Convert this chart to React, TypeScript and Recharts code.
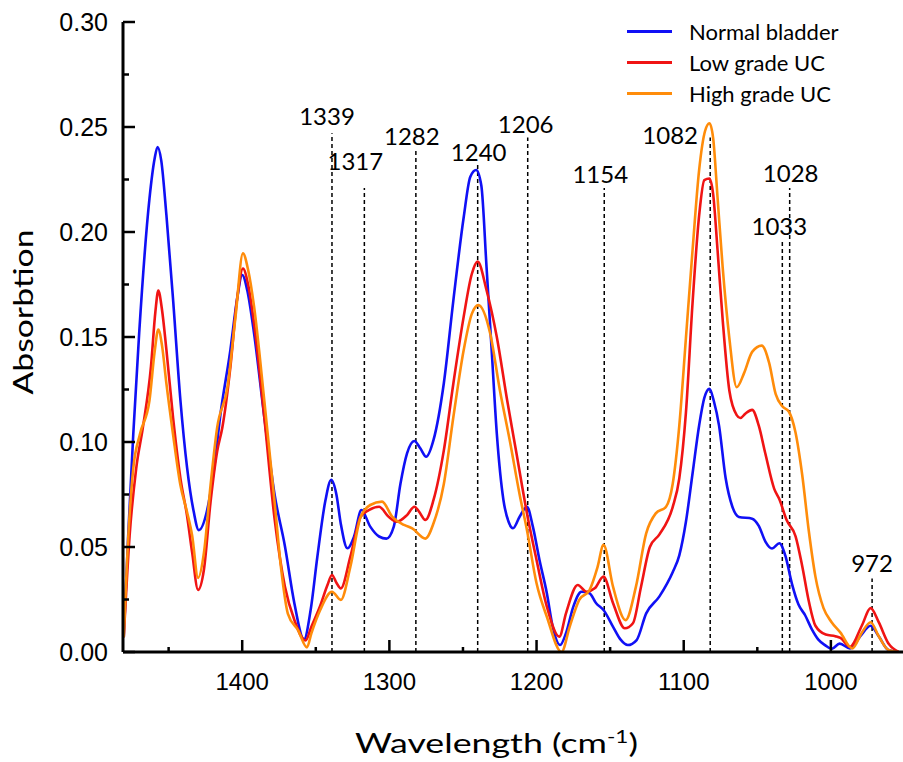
import { LineChart, Line, XAxis, YAxis, ReferenceLine, Legend, Label } from 'recharts';

// wavenumber (cm-1), absorbance
const normalBladder: [number, number][] = [
  [1480.5, 0.007], [1477.5, 0.055], [1474, 0.104], [1470, 0.152], [1463, 0.216], [1459.5, 0.235],
  [1457.5, 0.2405], [1455, 0.234], [1451.5, 0.208], [1447, 0.168], [1442, 0.12], [1437.5, 0.088],
  [1433, 0.067], [1429.5, 0.058], [1424, 0.067], [1419, 0.088], [1415, 0.112], [1408, 0.144],
  [1403.5, 0.168], [1400, 0.1795], [1396.5, 0.172], [1392, 0.152], [1385, 0.112], [1378, 0.075],
  [1371, 0.0505], [1364.5, 0.023], [1358, 0.006], [1353.5, 0.02], [1349, 0.045], [1343.5, 0.072],
  [1339.5, 0.082], [1336, 0.075], [1333, 0.061], [1328.5, 0.0494], [1324, 0.055], [1319, 0.0676],
  [1313, 0.0597], [1307, 0.055], [1302, 0.054], [1297, 0.0597], [1292.5, 0.08], [1288, 0.0946],
  [1283, 0.1005], [1279, 0.097], [1275, 0.093], [1270, 0.101], [1263, 0.128], [1256.5, 0.1676],
  [1249.5, 0.207], [1245, 0.2263], [1241, 0.2295], [1237.5, 0.222], [1234, 0.1835], [1230.5, 0.1438],
  [1227, 0.104], [1222.5, 0.0724], [1219, 0.062], [1216, 0.0589], [1211.5, 0.0644], [1206.5, 0.0692],
  [1202.5, 0.0597], [1198, 0.0438], [1193, 0.028], [1189, 0.012], [1184, 0.0033], [1180, 0.0089],
  [1175, 0.0216], [1169.5, 0.0287], [1164, 0.028], [1159.5, 0.0232], [1154.5, 0.02], [1148, 0.012],
  [1143, 0.006], [1138, 0.0033], [1132, 0.0057], [1125.5, 0.0184], [1116.5, 0.0265], [1107.5, 0.038],
  [1103, 0.046], [1098.5, 0.062], [1094, 0.085], [1089.5, 0.108], [1086, 0.121], [1082.5, 0.1253],
  [1079.5, 0.1194], [1076, 0.1078], [1071.5, 0.0827], [1067, 0.0693], [1062.5, 0.0643], [1053.5, 0.0635],
  [1049, 0.0601], [1044.5, 0.0526], [1040, 0.0493], [1035, 0.0518], [1031, 0.046], [1026.5, 0.0326],
  [1022, 0.0226], [1017.5, 0.0175], [1013, 0.0109], [1008.5, 0.0059], [1004, 0.0033], [999.5, 0.0015],
  [994, 0.004], [987, 0.0017], [980, 0.0075], [973, 0.0125], [967.5, 0.0075], [961, 0.001], [954, 0],
];

const lowGradeUC: [number, number][] = [
  [1480.5, 0.007], [1476.5, 0.0554], [1472, 0.0876], [1467.5, 0.1069], [1462, 0.1359], [1459, 0.162],
  [1457, 0.1721], [1454.5, 0.163], [1451.5, 0.1439], [1447, 0.1117], [1442, 0.0828], [1437.5, 0.065],
  [1434, 0.0473], [1430, 0.0296], [1426, 0.0393], [1421.5, 0.0715], [1417, 0.0956], [1413.5, 0.1069],
  [1408, 0.1359], [1403.5, 0.168], [1399.5, 0.1826], [1396, 0.175], [1392, 0.1568], [1385, 0.1117],
  [1378, 0.0634], [1371, 0.0312], [1364.5, 0.0151], [1357, 0.0055], [1353, 0.012], [1347, 0.022],
  [1342, 0.032], [1339, 0.0367], [1336, 0.033], [1333, 0.0303], [1326.5, 0.0454], [1319.5, 0.0644],
  [1314, 0.0676], [1307, 0.0692], [1300.5, 0.0644], [1295, 0.062], [1288, 0.0652], [1283, 0.0692],
  [1280, 0.067], [1275.5, 0.0629], [1270, 0.0724], [1263, 0.096], [1256.5, 0.128], [1249.5, 0.1597],
  [1244, 0.18], [1240, 0.1859], [1234, 0.1724], [1227, 0.15], [1220, 0.12], [1213.5, 0.094],
  [1206.5, 0.066], [1200, 0.0438], [1193, 0.0216], [1184.5, 0.0073], [1180, 0.0184], [1172, 0.0319],
  [1166, 0.0287], [1160.5, 0.0303], [1154.5, 0.0359], [1148, 0.0232], [1140, 0.0113], [1134.5, 0.0137],
  [1129, 0.0311], [1123, 0.05], [1116.5, 0.056], [1107.5, 0.069], [1103, 0.0827], [1098.5, 0.114],
  [1094, 0.1662], [1089.5, 0.208], [1086, 0.2247], [1082.5, 0.2255], [1080, 0.218], [1077, 0.1913],
  [1073.5, 0.1579], [1069, 0.1245], [1064, 0.1128], [1061.5, 0.1114], [1058, 0.1136], [1053.5, 0.1153],
  [1049, 0.1078], [1044.5, 0.0944], [1038.5, 0.0777], [1035, 0.0727], [1030, 0.0627], [1024, 0.0551],
  [1019.5, 0.041], [1015, 0.0242], [1010.5, 0.0125], [1003.5, 0.0083], [997, 0.0075], [993.5, 0.0067],
  [987, 0.0025], [979, 0.0125], [973, 0.0209], [967.5, 0.0142], [961, 0.0042], [954, 0],
];

const highGradeUC: [number, number][] = [
  [1480.5, 0.007], [1477, 0.06], [1474, 0.0876], [1469.5, 0.1037], [1463, 0.1198], [1459.5, 0.143],
  [1457, 0.1536], [1454.5, 0.146], [1451.5, 0.1278], [1447, 0.1037], [1442, 0.0795], [1437.5, 0.0667],
  [1434, 0.0554], [1430, 0.0353], [1426, 0.0473], [1421.5, 0.0795], [1417, 0.1069], [1410, 0.1262],
  [1404.5, 0.16], [1399.5, 0.1898], [1396, 0.182], [1392, 0.1648], [1385, 0.1198], [1378, 0.0715],
  [1373.5, 0.0393], [1369, 0.0183], [1362, 0.0103], [1356, 0.0022], [1353, 0.0089], [1347, 0.02],
  [1339, 0.0287], [1333, 0.0248], [1326.5, 0.0406], [1319.5, 0.0644], [1313, 0.07], [1305, 0.0716],
  [1298, 0.0644], [1290, 0.0605], [1284.5, 0.0589], [1275.5, 0.054], [1270, 0.0613], [1263, 0.08],
  [1256.5, 0.112], [1249.5, 0.1438], [1244, 0.161], [1239.5, 0.1652], [1231.5, 0.1517], [1225, 0.125],
  [1218, 0.1], [1211.5, 0.075], [1206.5, 0.058], [1200, 0.0327], [1193, 0.0168], [1183, 0],
  [1177.5, 0.012], [1171, 0.0248], [1164, 0.0295], [1158.5, 0.0406], [1154.5, 0.051], [1148, 0.031],
  [1139.5, 0.0152], [1132.5, 0.031], [1125.5, 0.0565], [1119, 0.066], [1112, 0.0692], [1107.5, 0.08],
  [1103, 0.1078], [1098.5, 0.1495], [1094, 0.1913], [1089.5, 0.2297], [1085.5, 0.2481], [1082.5, 0.2518],
  [1080, 0.2447], [1077, 0.2163], [1073.5, 0.1829], [1069, 0.1495], [1064, 0.1261], [1059, 0.1328],
  [1053.5, 0.1429], [1047, 0.1459], [1042, 0.1378], [1037.5, 0.1228], [1033, 0.117], [1028.5, 0.1144],
  [1024, 0.1044], [1019.5, 0.0844], [1015, 0.0576], [1010.5, 0.0359], [1005, 0.0209], [999.5, 0.0142],
  [993.5, 0.0092], [985.5, 0.0017], [979, 0.0092], [973, 0.0142], [967.5, 0.0075], [961, 0.001], [954, 0],
];

const seriesNames = ['Normal bladder', 'Low grade UC', 'High grade UC'];
const seriesColors = ['#1010f5', '#f01414', '#ff8c0a'];

// marked bands and where their dashed guide stops (absorbance)
const peakWavenumbers = [1339, 1317, 1282, 1240, 1206, 1154, 1082, 1033, 1028, 972];
const peakGuideTops = [0.247, 0.221, 0.239, 0.233, 0.245, 0.221, 0.245, 0.196, 0.221, 0.035];

const xTicks = [1450, 1400, 1350, 1300, 1250, 1200, 1150, 1100, 1050, 1000];
const yTicks = [0, 0.025, 0.05, 0.075, 0.1, 0.125, 0.15, 0.175, 0.2, 0.225, 0.25, 0.275, 0.3];

// pixel nudges for the peak labels: [dx, gap above guide]
const labelNudge: Record<number, [number, number]> = {
  1339: [-5, 8], 1317: [-9, 18], 1282: [-4, 5], 1240: [1, 2], 1206: [-2, 5],
  1154: [-4, 5], 1082: [-40, -6], 1033: [-3, 5], 1028: [1, 6], 972: [0, 7],
};

const toPoints = (s: [number, number][]) => s.map(([wn, a]) => ({ wn, a }));

const tickFont = '"Liberation Sans", Arial, sans-serif';
const textFont = 'Lato, "Open Sans", sans-serif';

const YTick = ({ x, y, payload }: any) => {
  const v = payload.value;
  const major = Math.abs(v * 20 - Math.round(v * 20)) < 1e-6;
  return (
    <g>
      <line x1={x} x2={x + (major ? 12 : 6)} y1={y} y2={y} stroke="#000" strokeWidth={2.5} />
      {major && (
        <text x={x - 15} y={y} dy="0.36em" textAnchor="end" fontFamily={tickFont} fontSize={25} fill="#000">
          {v.toFixed(2)}
        </text>
      )}
    </g>
  );
};

const XTick = ({ x, y, payload }: any) => {
  const v = payload.value;
  const major = v % 100 === 0;
  return (
    <g>
      <line x1={x} x2={x} y1={y} y2={y - (major ? 12 : 5)} stroke="#000" strokeWidth={2.5} />
      {major && (
        <text x={x} y={y + 38} textAnchor="middle" fontFamily={tickFont} fontSize={24} fill="#000">
          {v}
        </text>
      )}
    </g>
  );
};

const YTitle = ({ viewBox }: any) => {
  const vb = viewBox || { x: 63, y: 22, width: 60, height: 630 };
  const cx = vb.x - 39;
  const cy = vb.y + vb.height / 2 - 25;
  return (
    <text
      x={cx}
      y={cy}
      transform={`rotate(-90 ${cx} ${cy})`}
      textAnchor="middle"
      dy="0.35em"
      fontFamily={textFont}
      fontSize={27}
      textLength={165}
      lengthAdjust="spacingAndGlyphs"
      fill="#000"
    >
      Absorbtion
    </text>
  );
};

const XTitle = ({ viewBox }: any) => {
  const vb = viewBox || { x: 123, y: 652, width: 780, height: 30 };
  const left = vb.x + vb.width / 2 - 158;
  return (
    <text x={left} y={vb.y + 101} fontFamily={textFont} fontSize={27} fill="#000" textLength={283} lengthAdjust="spacingAndGlyphs">
      Wavelength (cm
      <tspan dy={-10} fontSize={17}>-1</tspan>
      <tspan dy={10}>)</tspan>
    </text>
  );
};

const PeakLabel = (wn: number) => (props: any) => {
  const vb = props.viewBox;
  if (!vb) return null;
  const [dx, gap] = labelNudge[wn] || [0, 5];
  return (
    <text x={vb.x + dx} y={vb.y - gap} textAnchor="middle" fontFamily={textFont} fontSize={24} fill="#000">
      {wn}
    </text>
  );
};

const LegendBox = () => (
  <div style={{ fontFamily: textFont, fontSize: 22, color: '#000' }}>
    {seriesNames.map((name, i) => (
      <div key={name} style={{ display: 'flex', alignItems: 'center', height: 31 }}>
        <span style={{ display: 'inline-block', width: 45, height: 3, background: seriesColors[i], marginRight: 17 }} />
        <span>{name}</span>
      </div>
    ))}
  </div>
);

const allSeries = [normalBladder, lowGradeUC, highGradeUC];

export default function App() {
  return (
    <div style={{ position: 'absolute', left: 0, top: 0, width: 903, height: 762, background: '#fff' }}>
      <LineChart width={903} height={762} margin={{ top: 22, right: 0, bottom: 80, left: 63 }}>
        <XAxis
          type="number"
          dataKey="wn"
          domain={[951, 1481]}
          reversed
          allowDataOverflow
          ticks={xTicks}
          interval={0}
          tickSize={0}
          tickMargin={0}
          tickLine={false}
          tick={XTick}
          axisLine={{ stroke: '#000', strokeWidth: 3 }}
          height={30}
        >
          <Label content={XTitle} />
        </XAxis>
        <YAxis
          type="number"
          domain={[0, 0.3]}
          allowDataOverflow
          ticks={yTicks}
          interval={0}
          tickSize={0}
          tickMargin={0}
          tickLine={false}
          tick={YTick}
          axisLine={{ stroke: '#000', strokeWidth: 3 }}
          width={60}
        >
          <Label content={YTitle} />
        </YAxis>
        {peakWavenumbers.map((wn, i) => (
          <ReferenceLine
            key={wn}
            segment={[{ x: wn, y: 0 }, { x: wn, y: peakGuideTops[i] }]}
            stroke="#000"
            strokeWidth={1.5}
            strokeDasharray="4 3"
            label={PeakLabel(wn)}
          />
        ))}
        {allSeries.map((s, i) => (
          <Line
            key={seriesNames[i]}
            data={toPoints(s)}
            dataKey="a"
            name={seriesNames[i]}
            type="monotone"
            stroke={seriesColors[i]}
            strokeWidth={2.6}
            dot={false}
            isAnimationActive={false}
          />
        ))}
        <Legend
          layout="vertical"
          align="center"
          verticalAlign="middle"
          content={LegendBox}
          wrapperStyle={{ left: 627, top: 16, width: 260 }}
        />
      </LineChart>
    </div>
  );
}
